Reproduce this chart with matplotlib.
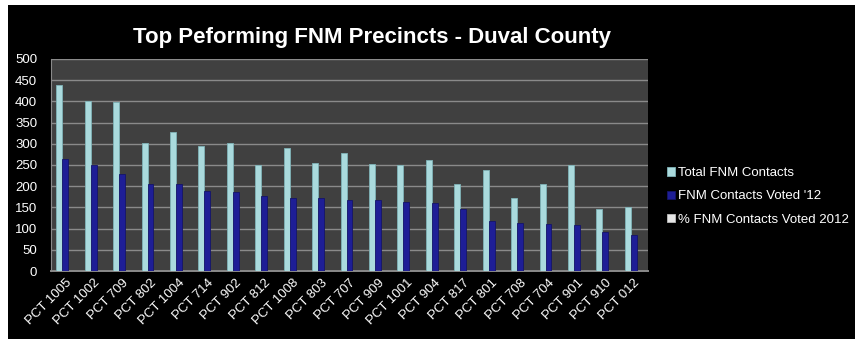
import numpy as np
import matplotlib
matplotlib.use('Agg')
import matplotlib.pyplot as plt
from matplotlib.patches import Rectangle

# Chart data
precincts = ['PCT 1005', 'PCT 1002', 'PCT 709', 'PCT 802', 'PCT 1004', 'PCT 714', 'PCT 902',
             'PCT 812', 'PCT 1008', 'PCT 803', 'PCT 707', 'PCT 909', 'PCT 1001', 'PCT 904',
             'PCT 817', 'PCT 801', 'PCT 708', 'PCT 704', 'PCT 901', 'PCT 910', 'PCT 012']
total_contacts = [438, 400, 398, 302, 329, 295, 302, 249, 289, 255, 278, 253, 249, 261,
                  206, 238, 171, 206, 249, 147, 152]
voted_12 = [265, 249, 228, 206, 206, 188, 187, 176, 173, 172, 168, 168, 162, 161,
            146, 118, 113, 112, 108, 91, 86]
pct_voted = [0.61, 0.62, 0.57, 0.68, 0.63, 0.64, 0.62, 0.71, 0.60, 0.67, 0.60, 0.66, 0.65, 0.62,
             0.71, 0.50, 0.66, 0.54, 0.43, 0.62, 0.57]
series_names = ['Total FNM Contacts', "FNM Contacts Voted '12", '% FNM Contacts Voted 2012']
y_ticks = list(range(0, 501, 50))

W, H = 855, 339
fig = plt.figure(figsize=(W / 100, H / 100), dpi=100, facecolor='white')
plt.rcParams['font.family'] = ['Liberation Sans', 'DejaVu Sans']

# black slide background with a thin white margin at left/top
fig.patches.append(Rectangle((8 / W, 0), 1 - 8 / W, 1 - 5 / H, transform=fig.transFigure,
                             facecolor='black', edgecolor='none', zorder=-10))

ax = fig.add_axes([51 / W, (H - 271) / H, 597 / W, 212 / H])
ax.set_zorder(2)
ax.set_facecolor('#404040')

x = np.arange(len(precincts))
w = 0.21
ax.bar(x - w, total_contacts, w, color='#aadadd', edgecolor='#7fb3b7', linewidth=0.6,
       label=series_names[0], zorder=3)
ax.bar(x, voted_12, w, color='#1e1e96', edgecolor='#14146a', linewidth=0.6,
       label=series_names[1], zorder=3)
ax.bar(x + w, pct_voted, w, color='#e6e6e6', edgecolor='#bdbdbd', linewidth=0.6,
       label=series_names[2], zorder=3)

ax.set_xlim(-0.5, len(precincts) - 0.5)
ax.set_ylim(0, 500)
ax.set_yticks(y_ticks)
ax.yaxis.grid(True, color='#8a8a8a', linewidth=1.0, zorder=1)
ax.set_axisbelow(True)
for side in ['top', 'right']:
    ax.spines[side].set_visible(False)
for side in ['left', 'bottom']:
    ax.spines[side].set_color('#8a8a8a')
ax.spines['left'].set_linewidth(0.8)
ax.spines['bottom'].set_linewidth(1.4)

ax.tick_params(axis='y', length=0, pad=10, labelsize=9.5, labelcolor='white')
ax.tick_params(axis='x', length=0, pad=4, labelsize=9.5, labelcolor='white')
ax.set_xticks(x)
ax.set_xticklabels(precincts, rotation=45, ha='right', rotation_mode='anchor')

fig.text(372 / W, 1 - 37 / H, 'Top Peforming FNM Precincts - Duval County', color='white',
         fontsize=16, fontweight='bold', ha='center', va='center')

leg = ax.legend(loc='upper left', bbox_to_anchor=(662 / W, 1 - 162 / H), bbox_transform=fig.transFigure,
                frameon=False, fontsize=9.5, labelcolor='white', handlelength=0.6, handleheight=0.6,
                handletextpad=0.2, labelspacing=0.85, borderaxespad=0)

fig.savefig('out.png', dpi=100, facecolor=fig.get_facecolor())
